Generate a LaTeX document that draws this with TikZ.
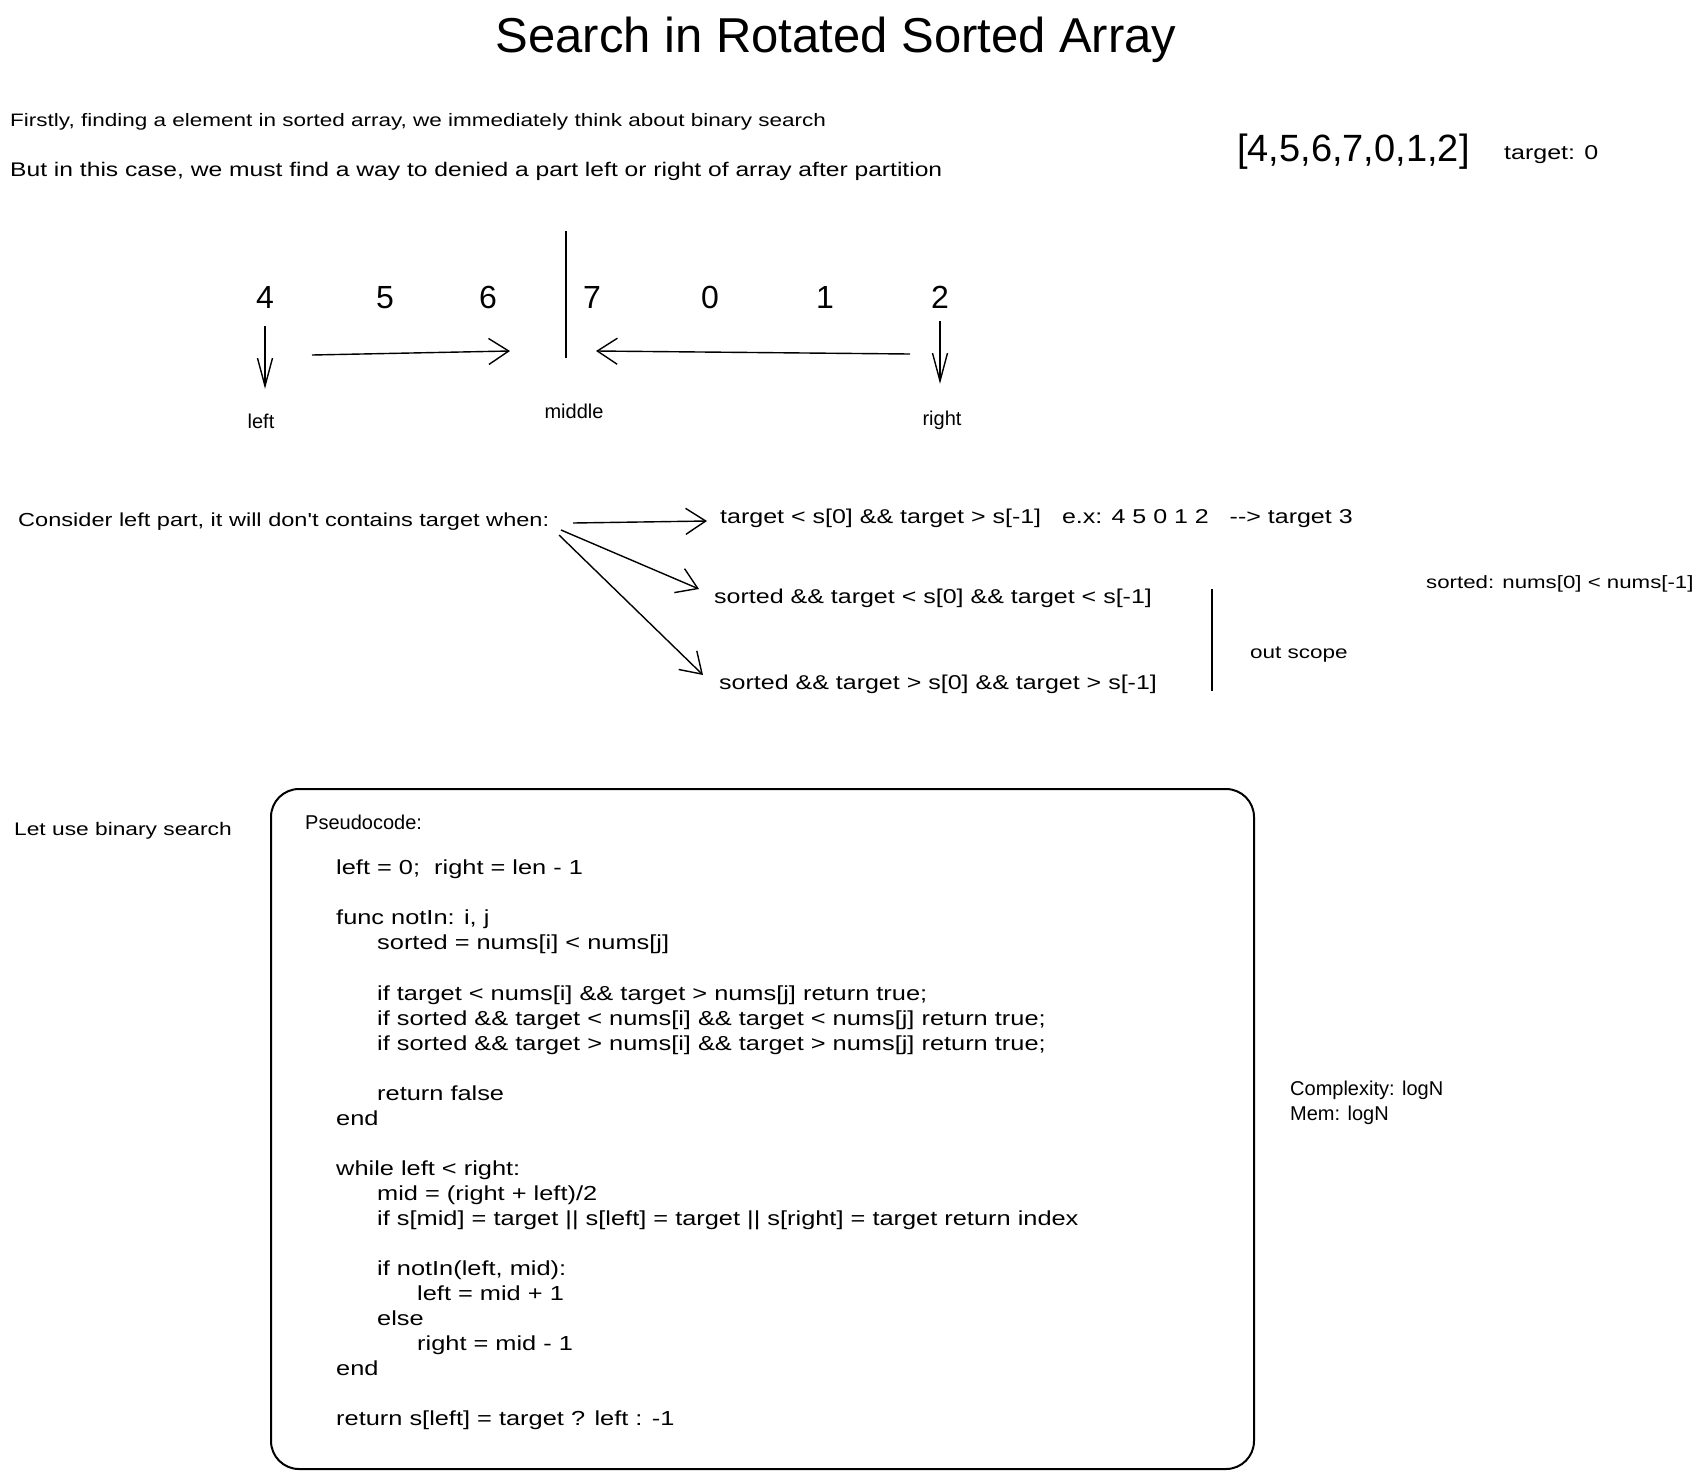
\documentclass[tikz,border=0pt]{standalone}
\usepackage{fontspec}
\setmainfont{Liberation Sans}
\newfontfamily\hand{Liberation Sans}[FakeStretch=1.25]
\usetikzlibrary{arrows.meta}
\begin{document}
\begin{tikzpicture}[x=1pt,y=-1pt,
  plain/.style={inner sep=0pt, anchor=west, font=\fontsize{20}{24}\selectfont, text height=17pt, text depth=3pt},
  txt/.style={plain, font=\hand\fontsize{20}{24}\selectfont},
  code/.style={txt, font=\hand\fontsize{20.3}{24}\selectfont},
  num/.style={inner sep=0pt, font=\fontsize{32}{36}\selectfont, text height=24pt, text depth=0pt},
  arr/.style={line width=1.4pt, -{Straight Barb[length=20pt,width=26pt]}},
  darr/.style={line width=1.4pt, -{Straight Barb[length=28pt,width=15pt]}},
  bar/.style={line width=1.8pt}]
\useasboundingbox (0,0) rectangle (1702,1478);
\fill[white] (0,0) rectangle (1702,1478);

% title
\node[inner sep=0pt, font=\fontsize{49}{52}\selectfont] (title) at (836,40) {Search in Rotated Sorted Array};

% intro
\node[txt, font=\hand\fontsize{18}{24}\selectfont] (l1) at (10,119) {Firstly, finding a element in sorted array, we immediately think about binary search};
\node[txt, font=\hand\fontsize{19.7}{24}\selectfont] (l2) at (10,169) {But in this case, we must find a way to denied a part left or right of array after partition};
\node[inner sep=0pt, anchor=west, font=\fontsize{38}{42}\selectfont] (arr) at (1237,152) {[4,5,6,7,0,1,2]};
\node[txt] (tgt) at (1504,152) {target: 0};

% array diagram
\node[num] (n4) at (265,296) {4};
\node[num] (n5) at (385,296) {5};
\node[num] (n6) at (488,296) {6};
\node[num] (n7) at (592,296) {7};
\node[num] (n0) at (710,296) {0};
\node[num] (n1) at (825,296) {1};
\node[num] (n2) at (940,296) {2};
\node[plain, anchor=center] (lleft) at (261,421) {left};
\node[plain, anchor=center] (lmid) at (574,411) {middle};
\node[plain, anchor=center] (lright) at (942,418) {right};
\draw[bar] (566,231) -- (566,358);
\draw[darr, shorten <=18pt, shorten >=22pt] (n4.south) -- (n4.south |- lleft.north);
\draw[darr, shorten <=13pt, shorten >=24pt] (n2.south) -- (n2.south |- lright.north);
\coordinate (ra) at (312,355);
\coordinate (rb) at (510,351);
\coordinate (la) at (910,354);
\coordinate (lb) at (596,351);
\draw[arr] (ra) -- (rb);
\draw[arr] (la) -- (lb);

% conditions
\node[txt, font=\hand\fontsize{18.85}{24}\selectfont] (cons) at (18,519) {Consider left part, it will don't contains target when:};
\node[txt] (t1) at (720,516) {target < s[0] \&\& target > s[-1]\ \ \ e.x: 4 5 0 1 2\ \ \ --> target 3};
\node[txt] (t2) at (714,596) {sorted \&\& target < s[0] \&\& target < s[-1]};
\node[txt] (t3) at (719,682) {sorted \&\& target > s[0] \&\& target > s[-1]};
\coordinate (c1) at (573,523);
\coordinate (c2) at (561,530);
\coordinate (c3) at (559,535);
\draw[arr] (c1) -- ([xshift=-13pt,yshift=-5pt]t1.west);
\draw[arr] (c2) -- ([xshift=-15pt,yshift=7pt]t2.west);
\draw[arr] (c3) -- ([xshift=-16pt,yshift=7pt]t3.west);
\draw[bar] (1212,589) -- (1212,691);
\node[txt, font=\hand\fontsize{18}{24}\selectfont] (oscope) at (1250,651) {out scope};
\node[txt, font=\hand\fontsize{17.8}{24}\selectfont] (sdef) at (1426,581) {sorted: nums[0] < nums[-1]};

% pseudocode
\node[txt, font=\hand\fontsize{18.2}{24}\selectfont] (lub) at (14,828) {Let use binary search};
\draw[line width=2pt, rounded corners=28pt] (271,789) rectangle (1254,1469);
\node[plain] (pc) at (305,822) {Pseudocode:};
\node[code] (c01) at (336,867) {left = 0;\ \ right = len - 1};
\node[code] (c02) at (336,917) {func notIn: i, j};
\node[code] (c03) at (377,942) {sorted = nums[i] < nums[j]};
\node[code] (c04) at (377,993) {if target < nums[i] \&\& target > nums[j] return true;};
\node[code] (c05) at (377,1018) {if sorted \&\& target < nums[i] \&\& target < nums[j] return true;};
\node[code] (c06) at (377,1043) {if sorted \&\& target > nums[i] \&\& target > nums[j] return true;};
\node[code] (c07) at (377,1093) {return false};
\node[code] (c08) at (336,1118) {end};
\node[code] (c09) at (336,1168) {while left < right:};
\node[code] (c10) at (377,1193) {mid = (right + left)/2};
\node[code] (c11) at (377,1218) {if s[mid] = target || s[left] = target || s[right] = target return index};
\node[code] (c12) at (377,1268) {if notIn(left, mid):};
\node[code] (c13) at (417,1293) {left = mid + 1};
\node[code] (c14) at (377,1318) {else};
\node[code] (c15) at (417,1343) {right = mid - 1};
\node[code] (c16) at (336,1368) {end};
\node[code] (c17) at (336,1418) {return s[left] = target ? left : -1};

\node[plain] (cx) at (1290,1088) {Complexity: logN};
\node[plain] (mem) at (1290,1113) {Mem: logN};
\end{tikzpicture}
\end{document}
